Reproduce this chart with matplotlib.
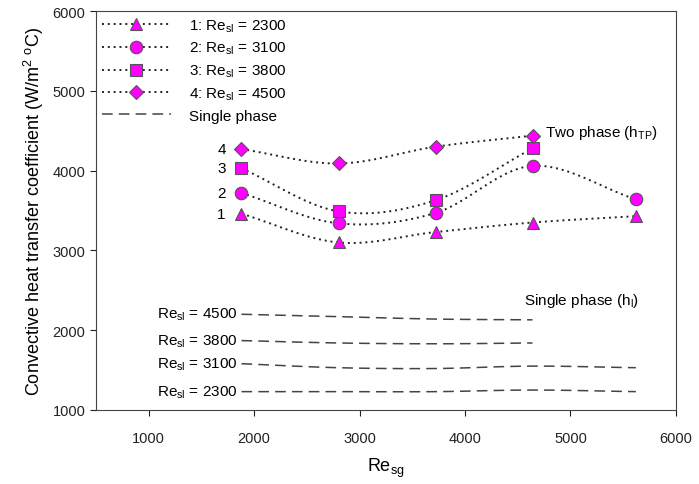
import matplotlib
matplotlib.use("Agg")
import matplotlib.pyplot as plt
import numpy as np

plt.rcParams['font.family'] = ['Liberation Sans', 'DejaVu Sans']
plt.rcParams['mathtext.fontset'] = 'custom'
plt.rcParams['mathtext.rm'] = 'Liberation Sans'
plt.rcParams['mathtext.it'] = 'Liberation Sans'

# two phase data
re_sg = [1880, 2800, 3720, 4640, 5620]
h_tp_2300 = [3460, 3100, 3230, 3350, 3430]
h_tp_3100 = [3720, 3340, 3470, 4060, 3640]
h_tp_3800 = [4030, 3490, 3630, 4280]
h_tp_4500 = [4270, 4090, 4300, 4440]

# single phase data
h_l_2300 = [1230, 1230, 1230, 1250, 1230]
h_l_3100 = [1580, 1530, 1520, 1550, 1530]
h_l_3800 = [1870, 1840, 1830, 1840]
h_l_4500 = [2200, 2170, 2140, 2130]

tp_labels = ['1: Re$_{\\mathregular{sl}}$ = 2300', '2: Re$_{\\mathregular{sl}}$ = 3100',
             '3: Re$_{\\mathregular{sl}}$ = 3800', '4: Re$_{\\mathregular{sl}}$ = 4500']
re_sl = [2300, 3100, 3800, 4500]


def smooth(x, y, n=30):
    # catmull-rom curve through the points, just for drawing the line
    x = np.asarray(x, float)
    y = np.asarray(y, float)
    px = np.concatenate([[2 * x[0] - x[1]], x, [2 * x[-1] - x[-2]]])
    py = np.concatenate([[2 * y[0] - y[1]], y, [2 * y[-1] - y[-2]]])
    t = np.linspace(0, 1, n)
    xs, ys = [], []
    for i in range(1, len(px) - 2):
        for p, out in ((px, xs), (py, ys)):
            p0, p1, p2, p3 = p[i - 1], p[i], p[i + 1], p[i + 2]
            out.extend(0.5 * (2 * p1 + (-p0 + p2) * t + (2 * p0 - 5 * p1 + 4 * p2 - p3) * t ** 2
                              + (-p0 + 3 * p1 - 3 * p2 + p3) * t ** 3))
    return xs, ys


fig = plt.figure(figsize=(6.99, 4.85), dpi=100)
ax = fig.add_axes([0.1373, 0.1526, 0.8297, 0.8224])

markers = ['^', 'o', 's', 'D']
sizes = [8, 9, 8, 7.5]
series = [h_tp_2300, h_tp_3100, h_tp_3800, h_tp_4500]
for ys, m, ms, lab in zip(series, markers, sizes, tp_labels):
    xs = re_sg[:len(ys)]
    sx, sy = smooth(xs, ys)
    ax.plot(sx, sy, ls=(0, (1, 2)), color='#222222', lw=1.4)
    ax.plot(xs, ys, ls='none', marker=m, ms=ms, mfc='#ff00ff', mec='#555555', mew=0.8)
    ax.plot([], [], ls=(0, (1, 2)), color='#222222', lw=1.4, marker=m, ms=ms,
            mfc='#ff00ff', mec='#555555', mew=0.8, label=lab)

singles = [h_l_2300, h_l_3100, h_l_3800, h_l_4500]
for ys, r in zip(singles, re_sl):
    xs = re_sg[:len(ys)]
    sx, sy = smooth(xs, ys)
    ax.plot(sx, sy, ls=(0, (7, 4)), color='#444444', lw=1.1)
    ax.text(xs[0] - 40, ys[0], 'Re$_{\\mathregular{sl}}$ = %d' % r, ha='right', va='center', fontsize=11)
ax.plot([], [], ls=(0, (7, 4)), color='#444444', lw=1.1, label='Single phase')

for i, ys in enumerate(series):
    ax.text(re_sg[0] - 150, ys[0], str(i + 1), ha='right', va='center', fontsize=11)

ax.text(4760, 4480, 'Two phase (h$_{\\mathregular{TP}}$)', ha='left', va='center', fontsize=11)
ax.text(4560, 2380, 'Single phase (h$_{\\mathregular{l}}$)', ha='left', va='center', fontsize=11)

ax.set_xlim(500, 6000)
ax.set_ylim(1000, 6000)
ax.set_xticks([1000, 2000, 3000, 4000, 5000, 6000])
ax.set_yticks([1000, 2000, 3000, 4000, 5000, 6000])
ax.tick_params(direction='out', length=4, labelsize=10.5, colors='#222222')
ax.tick_params(axis='x', pad=11)
ax.set_xlabel('Re$_{\\mathregular{sg}}$', fontsize=13, labelpad=8)
ax.set_ylabel('Convective heat transfer coefficient (W/m$^{\\mathregular{2}}$ $^{\\mathregular{o}}$C)',
              fontsize=13, labelpad=5)
for s in ax.spines.values():
    s.set_color('#444444')

ax.legend(loc='upper left', frameon=False, fontsize=11, handlelength=4.5,
          labelspacing=0.42, borderaxespad=0.0, handletextpad=1.2)

fig.savefig('out.png', dpi=100)
